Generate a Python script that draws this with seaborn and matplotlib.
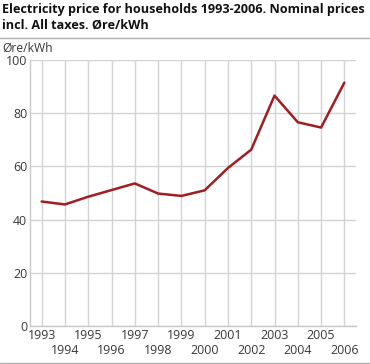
import numpy as np
import pandas as pd
import matplotlib.pyplot as plt
import seaborn as sns

# data
years = list(range(1993, 2007))
price = [46.8, 45.7, 48.6, 51.1, 53.6, 49.8, 48.9, 51.0, 59.4, 66.3, 86.6, 76.6, 74.6, 91.5]
odd_years = [y for y in years if y % 2 == 1]
even_years = [y for y in years if y % 2 == 0]

df = pd.DataFrame({'year': years, 'price': price})

sns.set_style("whitegrid", {'grid.color': '#d4d4d4', 'axes.edgecolor': '#c8c8c8'})
plt.rcParams['font.family'] = ['Open Sans', 'DejaVu Sans']

fig = plt.figure(figsize=(3.7, 3.64), dpi=100)
ax = fig.add_axes([30 / 370, 1 - 326 / 364, 326 / 370, 266 / 364])

sns.lineplot(data=df, x='year', y='price', ax=ax, color='#a11d21', linewidth=1.8)

ax.set_xlim(1992.5, 2006.5)
ax.set_ylim(0, 100)
# odd years on the upper row, even years on the lower row
ax.set_xticks(odd_years)
ax.set_xticklabels([str(y) for y in odd_years])
ax.set_xticks(even_years, minor=True)
ax.set_xticklabels([str(y) for y in even_years], minor=True)
ax.set_yticks([0, 20, 40, 60, 80, 100])
ax.tick_params(axis='both', which='both', labelsize=8.9, colors='#383838', length=0, pad=2)
ax.tick_params(axis='x', which='minor', pad=13)
ax.set_xlabel('')
ax.set_ylabel('')
ax.grid(True, which='both', axis='x', color='#d4d4d4', linewidth=1)
ax.grid(True, which='major', axis='y', color='#d4d4d4', linewidth=1)
for s in ['top', 'right']:
    ax.spines[s].set_visible(False)
for s in ['left', 'bottom']:
    ax.spines[s].set_color('#c8c8c8')
    ax.spines[s].set_linewidth(1)

fig.text(2 / 370, 1 - 3 / 364, 'Electricity price for households 1993-2006. Nominal prices\nincl. All taxes. Øre/kWh',
         fontsize=9.1, fontweight='bold', va='top', ha='left', color='#111111', linespacing=1.3)
fig.add_artist(plt.Line2D([0, 1], [1 - 37.5 / 364] * 2, color='#b0b0b0', linewidth=1))
fig.text(2 / 370, 1 - 48 / 364, 'Øre/kWh', fontsize=8.7, va='center', ha='left', color='#383838')
fig.add_artist(plt.Line2D([0, 1], [1 - 362.5 / 364] * 2, color='#b0b0b0', linewidth=1))

fig.savefig('out.png', dpi=100)
